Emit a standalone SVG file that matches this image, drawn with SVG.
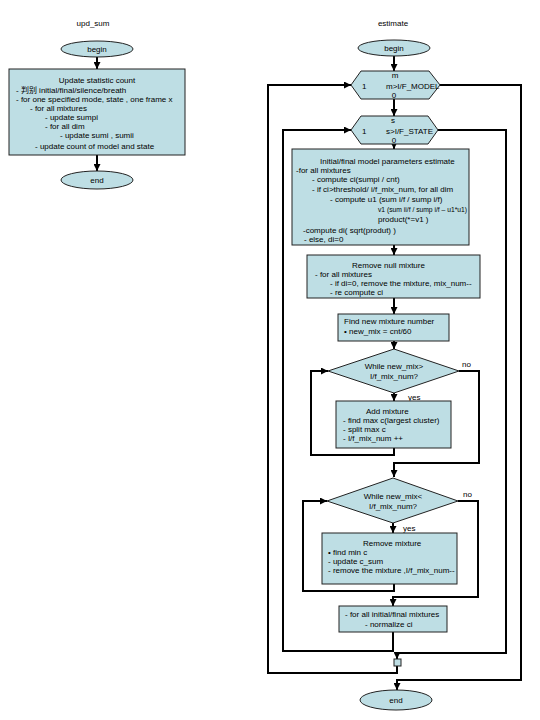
<svg xmlns="http://www.w3.org/2000/svg" width="540" height="720" viewBox="0 0 540 720">
<defs>
<marker id="ah" viewBox="0 0 10 10" refX="10" refY="5" markerWidth="7" markerHeight="7" markerUnits="userSpaceOnUse" orient="auto"><path d="M0,0 L10,5 L0,10 z" fill="#000"/></marker>
<style>
.n{fill:#BEDEE4;stroke:#222;stroke-width:1}
.c{fill:none;stroke:#000;stroke-width:2}
.a{marker-end:url(#ah)}
text{font-family:"Liberation Sans",Arial,"Noto Sans CJK SC",sans-serif;font-size:8px;fill:#000}
.m{text-anchor:middle}
</style>
</defs>
<rect width="540" height="720" fill="#fff"/>

<text class="m" x="93" y="26">upd_sum</text>
<text class="m" x="393" y="26">estimate</text>

<g id="connectors">
<path class="c a" d="M97,57 V69"/>
<path class="c a" d="M97,155 V171"/>
<path class="c a" d="M394,56 V71"/>
<path class="c a" d="M394,99 V116"/>
<path class="c a" d="M394,144 V149"/>
<path class="c a" d="M394,245 V255"/>
<path class="c a" d="M394,298 V314"/>
<path class="c a" d="M394,341 V349"/>
<path class="c a" d="M394,393 V401"/>
<path class="c a" d="M394,448 V455 H311 V371 H328"/>
<path class="c a" d="M459,371 H479 V463 H394 V477"/>
<path class="c a" d="M393,523 V533"/>
<path class="c a" d="M394,584 V591 H303 V501 H327"/>
<path class="c a" d="M458,501 H478 V597 H393 V606"/>
<path class="c a" d="M393,632 V651 H283 V130 H351"/>
<path class="c a" d="M438,130 H506 V653 H397 V659"/>
<path class="c a" d="M397,666 V673 H268 V85 H351"/>
<path class="c a" d="M440,85 H521 V680 H397 V690"/>
</g>

<g id="upd_begin">
<ellipse class="n" cx="97" cy="49" rx="36" ry="8"/>
<text class="m" x="97" y="52">begin</text>
</g>
<g id="upd_box">
<rect class="n" x="9" y="69" width="176" height="86"/>
<text class="m" x="97" y="83">Update statistic count</text>
<text x="16" y="93">- 判别 initial/final/silence/breath</text>
<text x="16" y="102">- for one specified mode, state , one frame x</text>
<text x="30" y="111">- for all mixtures</text>
<text x="45" y="120">- update sumpi</text>
<text x="45" y="129">- for all dim</text>
<text x="60" y="138">- update sumi , sumii</text>
<text x="35" y="149">- update count of model and state</text>
</g>
<g id="upd_end">
<ellipse class="n" cx="97" cy="180" rx="36" ry="9"/>
<text class="m" x="97" y="183">end</text>
</g>

<g id="est_begin">
<ellipse class="n" cx="394" cy="48" rx="36" ry="8"/>
<text class="m" x="394" y="51">begin</text>
</g>
<g id="hex_m">
<polygon class="n" points="361,71 429,71 440,85 429,99 361,99 351,85"/>
<text class="m" x="395" y="78">m</text>
<text x="362" y="89">1</text>
<text x="386" y="89">m&gt;I/F_MODEL</text>
<text class="m" x="394" y="98">0</text>
</g>
<g id="hex_s">
<polygon class="n" points="361,116 428,116 438,130 428,144 361,144 351,130"/>
<text class="m" x="393" y="123">s</text>
<text x="362" y="134">1</text>
<text x="386" y="134">s&gt;I/F_STATE</text>
<text class="m" x="394" y="143">0</text>
</g>
<g id="box_init">
<rect class="n" x="292" y="149" width="177" height="96"/>
<text x="320" y="164">Initial/final model parameters estimate</text>
<text x="296" y="173">-for all mixtures</text>
<text x="312" y="182">- compute ci(sumpi / cnt)</text>
<text x="312" y="192">- if ci&gt;threshold/ i/f_mix_num, for all dim</text>
<text x="330" y="202">- compute u1 (sum i/f / sump i/f)</text>
<text x="378" y="212" textLength="89" lengthAdjust="spacingAndGlyphs">v1 (sum ii/f / sump i/f – u1*u1)</text>
<text x="378" y="222">product(*=v1 )</text>
<text x="303" y="233">-compute di( sqrt(produt) )</text>
<text x="304" y="242">- else, di=0</text>
</g>
<g id="box_null">
<rect class="n" x="307" y="255" width="173" height="43"/>
<text x="352" y="268">Remove null mixture</text>
<text x="315" y="277">- for all mixtures</text>
<text x="330" y="286">- if di=0, remove the mixture, mix_num--</text>
<text x="330" y="295">- re compute ci</text>
</g>
<g id="box_find">
<rect class="n" x="338" y="314" width="111" height="27"/>
<text x="344" y="324">Find new mixture number</text>
<text x="344" y="334">• new_mix = cnt/60</text>
</g>
<g id="dia_1">
<polygon class="n" points="394,349 459,371 394,393 328,371"/>
<text class="m" x="394" y="369">While new_mix&gt;</text>
<text class="m" x="394" y="379">I/f_mix_num?</text>
<text x="462" y="367">no</text>
<text x="408" y="400">yes</text>
</g>
<g id="box_add">
<rect class="n" x="336" y="401" width="115" height="47"/>
<text x="366" y="414">Add mixture</text>
<text x="343" y="423">- find max c(largest cluster)</text>
<text x="343" y="432">- split max c</text>
<text x="343" y="441">- I/f_mix_num ++</text>
</g>
<g id="dia_2">
<polygon class="n" points="393,478 458,501 393,523 327,501"/>
<text class="m" x="393" y="499">While new_mix&lt;</text>
<text class="m" x="393" y="509">I/f_mix_num?</text>
<text x="463" y="497">no</text>
<text x="403" y="531">yes</text>
</g>
<g id="box_remove">
<rect class="n" x="322" y="533" width="135" height="51"/>
<text x="363" y="546">Remove mixture</text>
<text x="328" y="555">• find min c</text>
<text x="328" y="564">- update c_sum</text>
<text x="328" y="573">- remove the mixture ,I/f_mix_num--</text>
</g>
<g id="box_norm">
<rect class="n" x="339" y="606" width="108" height="26"/>
<text x="345" y="617">- for all initial/final mixtures</text>
<text x="365" y="627">- normalize ci</text>
</g>
<g id="join">
<rect class="n" x="394" y="659" width="7" height="7"/>
</g>
<g id="est_end">
<ellipse class="n" cx="396" cy="700" rx="36" ry="10"/>
<text class="m" x="396" y="703">end</text>
</g>
</svg>
